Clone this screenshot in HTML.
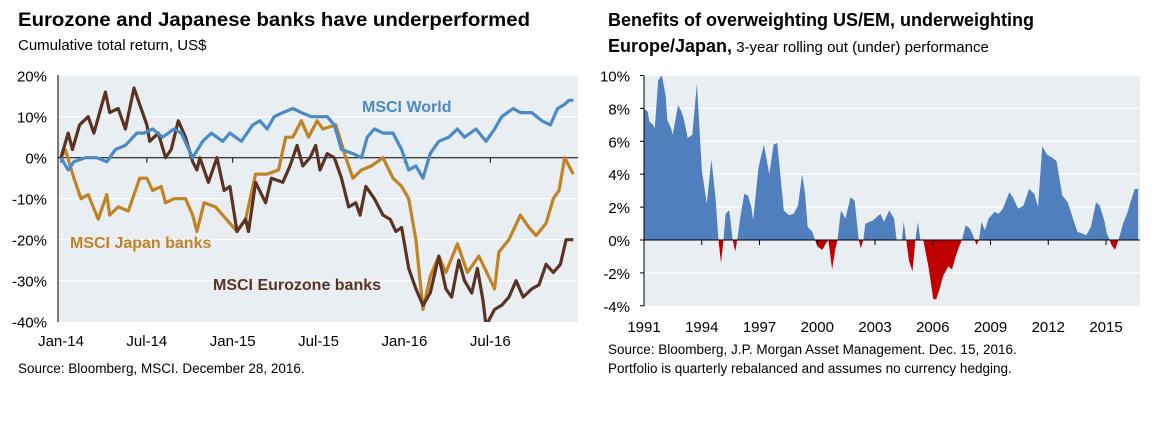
<!DOCTYPE html>
<html><head><meta charset="utf-8"><style>
body{margin:0;background:#fff;width:1162px;height:422px;overflow:hidden;font-family:"Liberation Sans",Arial,sans-serif;}
svg text{font-family:"Liberation Sans",Arial,sans-serif;}
</style></head><body>
<svg id="c" width="1162" height="422" xmlns="http://www.w3.org/2000/svg">
<defs>
<clipPath id="lclip"><rect x="58" y="75" width="520" height="247"/></clipPath>
</defs>
<g>
<text x="18" y="26" font-size="19" font-weight="bold" textLength="512" lengthAdjust="spacingAndGlyphs">Eurozone and Japanese banks have underperformed</text>
<text x="18" y="50" font-size="15">Cumulative total return, US$</text>
<rect x="58" y="75" width="520" height="247" fill="#e9eef3"/>
<g id="lgrid"></g>
<g id="lseries" clip-path="url(#lclip)"></g>
<text x="362" y="112" font-size="16" font-weight="bold" fill="#4b8ac6">MSCI World</text>
<text x="70" y="248" font-size="16" font-weight="bold" fill="#c08325">MSCI Japan banks</text>
<text x="213" y="290" font-size="16" font-weight="bold" fill="#5b3322">MSCI Eurozone banks</text>
<text x="18" y="373" font-size="13.5">Source: Bloomberg, MSCI. December 28, 2016.</text>
</g>
<g>
<text x="608" y="26" font-size="18" font-weight="bold">Benefits of overweighting US/EM, underweighting</text>
<text x="608" y="52"><tspan font-size="18" font-weight="bold">Europe/Japan,</tspan><tspan font-size="15"> 3-year rolling out (under) performance</tspan></text>
<rect x="644" y="76" width="496" height="230" fill="#e9eef3"/>
<g id="rgrid"></g>
<g id="rseries"></g>
<text x="608" y="354" font-size="13.5">Source: Bloomberg, J.P. Morgan Asset Management. Dec. 15, 2016.</text>
<text x="608" y="373" font-size="13.5">Portfolio is quarterly rebalanced and assumes no currency hedging.</text>
</g>
</svg>
<script>
// ---- Left chart data (months since Jan-2014, cumulative return %) ----
const worldMonths=[0,0.5,0.9,1.7,2.5,3.2,3.8,4.5,5.3,5.8,6.4,7.1,7.9,8.4,9.2,9.9,10.5,11.3,11.8,12.6,13.4,13.9,14.4,14.9,15.5,16.2,16.8,17.5,18.3,18.6,19.1,19.6,20.4,21.0,21.4,21.9,22.5,23.2,23.8,24.3,24.8,25.3,25.8,26.4,27.1,27.7,28.2,29.0,29.7,30.3,30.8,31.6,32.1,32.9,33.6,34.2,34.7,35.2,35.5,35.8];
const worldValues=[0,-3,-1,0,0,-1,2,3,6,6,7,5,7,6,0,4,6,4,6,4,8,9,7,10,11,12,11,10,10,10,8,2,1,0,5,7,6,6,2,-3,-2,-5,1,4,5,7,5,7,4,7,10,12,11,11,9,8,12,13,14,14];
const japanMonths=[0,0.3,0.9,1.4,1.9,2.6,3.2,3.4,4.0,4.7,5.5,6.0,6.4,7.0,7.3,7.9,8.7,9.2,9.5,10.0,10.8,11.3,12.3,12.9,13.6,14.4,15.2,15.7,16.2,16.8,17.3,17.9,18.3,19.2,19.9,20.4,21.0,21.7,22.5,23.2,23.8,24.3,24.8,25.3,25.8,26.4,26.9,27.7,28.4,29.2,30.3,30.6,31.3,32.1,32.7,33.2,33.9,34.4,34.8,35.2,35.8];
const japanValues=[0,2,-5,-10,-9,-15,-9,-14,-12,-13,-5,-5,-8,-7,-11,-10,-10,-14,-18,-11,-12,-14,-18,-15,-4,-4,-3,5,5,9,5,9,7,8,0,-5,-3,-2,0,-5,-7,-10,-20,-37,-29,-24,-28,-21,-28,-24,-32,-23,-20,-14,-17,-19,-16,-10,-8,0,-4];
const euroMonths=[0,0.5,0.8,1.3,1.9,2.3,3.1,3.4,4.0,4.5,5.1,5.6,6.0,6.2,6.8,7.3,7.7,8.2,8.7,9.2,9.5,9.7,10.3,10.9,11.4,11.8,12.3,12.9,13.1,13.6,14.3,14.7,15.5,16.0,16.5,16.9,17.4,17.8,18.1,18.6,19.1,19.6,20.1,20.6,20.9,21.3,21.9,22.5,23.0,23.4,23.8,24.3,24.8,25.3,25.8,26.4,26.9,27.3,27.8,28.2,28.7,29.1,29.5,29.7,30.3,30.8,31.3,31.8,32.3,32.9,33.4,33.9,34.4,34.9,35.3,35.8];
const euroValues=[0,6,2,8,10,6,16,11,12,7,17,12,8,4,6,0,2,9,5,-1,-3,0,-6,0,-8,-7,-18,-15,-18,-6,-11,-5,-6,-2,3,-2,0,3,-3,1,0,-5,-12,-11,-14,-7,-10,-14,-15,-18,-17,-27,-32,-36,-33,-24,-32,-34,-25,-30,-33,-27,-35,-41,-37,-36,-34,-30,-34,-32,-31,-26,-28,-26,-20,-20];
const leftYTicks=[20,10,0,-10,-20,-30,-40];
const leftXTickMonths=[0,6,12,18,24,30];
const leftXTickLabels=["Jan-14","Jul-14","Jan-15","Jul-15","Jan-16","Jul-16"];

// ---- Right chart data (years since 1991, out/under performance %) ----
const rYears=[0,0.19,0.28,0.47,0.56,0.74,0.93,1.12,1.21,1.40,1.49,1.77,1.95,2.08,2.27,2.51,2.75,3.01,3.26,3.50,3.72,3.87,4.00,4.13,4.24,4.43,4.61,4.74,4.84,4.99,5.21,5.40,5.58,5.67,5.95,6.23,6.51,6.73,6.92,7.26,7.53,7.78,8.00,8.22,8.37,8.50,8.74,8.89,9.02,9.27,9.45,9.58,9.77,9.95,10.05,10.23,10.46,10.73,10.94,11.16,11.26,11.39,11.50,11.91,12.28,12.47,12.74,12.99,13.12,13.40,13.49,13.62,13.77,13.95,14.10,14.23,14.36,14.51,14.79,15.03,15.18,15.35,15.53,15.81,16.00,16.19,16.37,16.52,16.71,16.93,17.12,17.27,17.40,17.53,17.71,17.90,18.20,18.42,18.64,18.98,19.16,19.44,19.72,20.00,20.28,20.47,20.69,20.93,21.21,21.43,21.73,22.01,22.23,22.51,22.73,22.98,23.22,23.48,23.67,23.91,24.04,24.19,24.28,24.47,24.65,24.89,25.12,25.30,25.49,25.67];
const rValues=[8,7.8,7.2,7,6.8,9.7,10,8.8,7.3,6.8,6.4,8.2,7.8,7.3,6.2,6.4,9.5,4.2,2.2,4.9,2.5,0,-1.4,0,1.6,1.8,0,-0.7,0,1.3,2.8,2.7,2,1.2,4.4,5.8,4,5.8,5.9,1.8,1.5,1.6,2.1,4,2.8,0.8,0.5,0,-0.4,-0.6,-0.2,0,-1.8,-0.5,0,1.8,1.3,2.6,2.4,0,-0.5,0,1,1.2,1.6,1.1,1.8,1.3,0,0,1.1,0,-1.3,-1.9,0,1.1,0,0,-1.7,-3.6,-3.6,-3,-2.2,-1.6,-1.8,-1,-0.4,0,0.9,0.7,0.2,-0.3,0,1.1,0.6,1.3,1.7,1.6,1.9,2.9,2.6,1.9,2.1,3.1,2.8,2,5.7,5.2,5,4.8,2.7,2.3,1.5,0.5,0.4,0.3,0.8,2.3,2.1,1.2,0.4,0,-0.3,-0.6,0,1,1.7,2.4,3.1,3.1];
const rYTicks=[10,8,6,4,2,0,-2,-4];
const rXTickYears=[1991,1994,1997,2000,2003,2006,2009,2012,2015];

const NS="http://www.w3.org/2000/svg";
function mk(tag,attrs,parent){const e=document.createElementNS(NS,tag);for(const k in attrs)e.setAttribute(k,attrs[k]);parent.appendChild(e);return e;}

// Left axes
const lx=m=>61+m*14.31;
const ly=v=>157.7-v*4.1;
const lgrid=document.getElementById('lgrid');
leftYTicks.forEach(t=>{
  if(t!==0&&t!==-40){const g=mk('line',{x1:58,x2:578,y1:ly(t),y2:ly(t),stroke:'#fff','stroke-width':1.2},lgrid);
  
  }
  const tx=mk('text',{x:47,y:ly(t)+6,'font-size':15,'text-anchor':'end'},lgrid);tx.textContent=t+'%';
  
  
});
const lax=mk('line',{x1:58,x2:58,y1:75,y2:322,stroke:'#000','stroke-width':1},lgrid);


const lzero=mk('line',{x1:58,x2:578,y1:ly(0),y2:ly(0),stroke:'#000','stroke-width':1},lgrid);


leftXTickMonths.forEach((m,i)=>{
  const tk=mk('line',{x1:lx(m),x2:lx(m),y1:ly(0),y2:ly(0)+5,stroke:'#000'},lgrid);
  
  
  const tx=mk('text',{x:lx(m),y:346,'font-size':15,'text-anchor':'middle'},lgrid);tx.textContent=leftXTickLabels[i];
  
  
});
const ls=document.getElementById('lseries');
function line(ms,vs,color,name){
  const d=ms.map((m,i)=>(i?'L':'M')+lx(m).toFixed(1)+','+ly(vs[i]).toFixed(1)).join('');
  const p=mk('path',{d:d,fill:'none',stroke:color,'stroke-width':3.2,'stroke-linejoin':'round'},ls);
  
  
}
line(japanMonths,japanValues,'#c08325','series-msci-japan-banks');
line(euroMonths,euroValues,'#5b3322','series-msci-eurozone-banks');
line(worldMonths,worldValues,'#4b8ac6','series-msci-world');

// Right axes
const rx=y=>644+(y-1991)*19.25;
const ry=v=>240-v*16.45;
const rgrid=document.getElementById('rgrid');
rYTicks.forEach(t=>{
  if(t!==0&&t!==-4&&t!==10){const g=mk('line',{x1:644,x2:1140,y1:ry(t),y2:ry(t),stroke:'#fff','stroke-width':1.2},rgrid);
  
  }
  const tx=mk('text',{x:630,y:ry(t)+6,'font-size':15,'text-anchor':'end'},rgrid);tx.textContent=t+'%';
  
  
});
rXTickYears.forEach(y=>{
  const tx=mk('text',{x:rx(y),y:332,'font-size':15,'text-anchor':'middle'},rgrid);tx.textContent=y;
  
  
});
const rs=document.getElementById('rseries');
const defs=document.querySelector('defs');
mk('rect',{x:0,y:0,width:1162,height:ry(0)},mk('clipPath',{id:'rpos'},defs));
mk('rect',{x:0,y:ry(0),width:1162,height:200},mk('clipPath',{id:'rneg'},defs));
let ad='M'+rx(1991+rYears[0])+','+ry(0);
rYears.forEach((y,i)=>{ad+='L'+rx(1991+y).toFixed(1)+','+ry(rValues[i]).toFixed(1);});
ad+='L'+rx(1991+rYears[rYears.length-1]).toFixed(1)+','+ry(0)+'Z';
const pos=mk('path',{d:ad,fill:'#4f7fbd','clip-path':'url(#rpos)'},rs);


const neg=mk('path',{d:ad,fill:'#c00000','clip-path':'url(#rneg)'},rs);


const rax=mk('line',{x1:644,x2:644,y1:76,y2:306,stroke:'#000'},rs);


rYTicks.forEach(t=>{const k=mk('line',{x1:640,x2:644,y1:ry(t),y2:ry(t),stroke:'#000'},rs);
  
  });
const rz=mk('line',{x1:644,x2:1140,y1:ry(0),y2:ry(0),stroke:'#000'},rs);


rXTickYears.forEach(y=>{const k=mk('line',{x1:rx(y),x2:rx(y),y1:ry(0),y2:ry(0)+5,stroke:'#000'},rs);
  
  });
</script>
</body></html>
